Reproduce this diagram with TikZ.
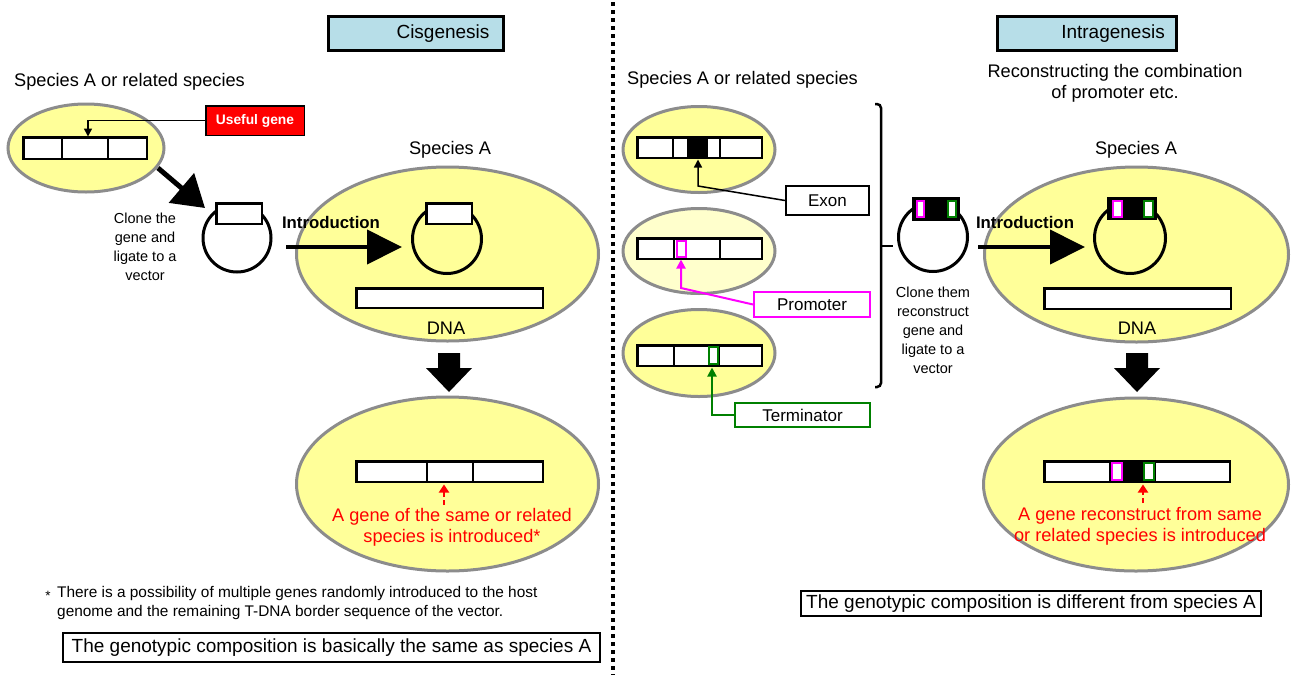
\documentclass[tikz,border=0pt]{standalone}
\usepackage{fontspec}
\setmainfont{Liberation Sans}
\usetikzlibrary{shapes.geometric,arrows.meta}
\definecolor{cellyellow}{HTML}{FFFF99}
\definecolor{celllight}{HTML}{FFFFCC}
\definecolor{cellgray}{HTML}{8C8C8C}
\definecolor{titleblue}{HTML}{B7DEE8}
\definecolor{promag}{HTML}{FF00FF}
\definecolor{termgreen}{HTML}{008000}
\definecolor{txtred}{HTML}{FF0000}
\begin{document}
\begin{tikzpicture}[x=1pt,y=-1pt,
  cell/.style={ellipse, draw=cellgray, line width=3pt, fill=cellyellow, inner sep=0pt},
  bar/.style={rectangle, draw=black, line width=2.5pt, fill=white, inner sep=0pt},
  vec/.style={circle, draw=black, line width=3pt, inner sep=0pt},
  divline/.style={line width=2.5pt},
  lbl/.style={font=\fontsize{18.2}{21}\selectfont, inner sep=0pt},
  smalllbl/.style={font=\fontsize{14.5}{19}\selectfont, inner sep=0pt, align=center},
  boldlbl/.style={font=\fontsize{16.8}{20}\selectfont\bfseries, inner sep=0pt},
  redlbl/.style={font=\fontsize{18.2}{21}\selectfont, text=txtred, inner sep=0pt, align=center},
  titlebox/.style={rectangle, draw=black, line width=3pt, fill=titleblue, inner sep=0pt},
  titletext/.style={font=\fontsize{19}{22}\selectfont, inner sep=0pt},
  infobox/.style={rectangle, draw=black, line width=2pt, fill=white, inner sep=0pt, font=\fontsize{19}{22}\selectfont},
  tagbox/.style={rectangle, line width=2pt, fill=white, inner sep=0pt, font=\fontsize{17}{20}\selectfont},
  thinarrow/.style={line width=1.5pt, -{Triangle[length=8pt,width=8pt]}},
  colarrow/.style={line width=2pt, -{Triangle[length=9pt,width=9pt]}},
  intro/.style={line width=4pt, -{Triangle[length=35pt,width=34pt]}},
  diag/.style={line width=5pt, -{Triangle[length=31pt,width=38pt]}},
  reddash/.style={draw=txtred, line width=2.5pt, dash pattern=on 5pt off 3pt, -{Triangle[length=8pt,width=10pt]}},
  magbox/.style={draw=promag, line width=2pt, fill=white},
  grnbox/.style={draw=termgreen, line width=2pt, fill=white},
  dotline/.style={line width=3.5pt, dash pattern=on 3.5pt off 4.5pt}
]
\useasboundingbox (0,0) rectangle (1295,675);
\fill[white] (0,0) rectangle (1295,675);

% divider
\draw[dotline] (613,2) -- (613,675);

% ===== titles =====
\node[titlebox, minimum width=175pt, minimum height=34pt] (tCis) at (416,33.5) {};
\node[titletext] (tCisT) at (443,34) {Cisgenesis};
\node[titlebox, minimum width=179pt, minimum height=34pt] (tIntra) at (1087,33.5) {};
\node[titletext] (tIntraT) at (1113,34) {Intragenesis};

% ===== LEFT PANEL =====
\node[lbl, anchor=west] (spL) at (14,82) {Species A or related species};
\node[cell, minimum width=156pt, minimum height=88pt] (cL1) at (86,148) {};
\node[bar, minimum width=123.5pt, minimum height=21.5pt] (bL1) at (85,148) {};
\draw[divline] (62,137) -- (62,159);
\draw[divline] (108,137) -- (108,159);
\node[rectangle, fill=red, draw=black, line width=1.5pt, minimum width=98.5pt, minimum height=29.5pt, inner sep=0pt, text=white, font=\fontsize{13.8}{16}\selectfont\bfseries] (useful) at (255,120.5) {Useful gene};
\coordinate (ugT) at (88,136.5);
\draw[thinarrow] (useful.west) -| (ugT);

\coordinate (dA) at (158,168);
\coordinate (dB) at (205,208);
\draw[diag] (dA) -- (dB);
\node[smalllbl] (cloneL) at (145,247) {Clone the\\gene and\\ligate to a\\vector};

\node[vec, minimum size=68pt] (v1) at (237,238) {};
\node[bar, minimum width=45.5pt, minimum height=20.5pt] (v1r) at (239,213.5) {};

\node[cell, minimum width=302pt, minimum height=174pt] (cL2) at (447.5,254) {};
\node[lbl] (spA1) at (450,150) {Species A};
\node[vec, minimum size=69pt] (v2) at (447,239) {};
\node[bar, minimum width=45.5pt, minimum height=20.5pt] (v2r) at (449,213.5) {};
\node[bar, minimum width=186.5pt, minimum height=19.5pt] (dnaL) at (449.5,298) {};
\node[lbl] (dnaLt) at (446,328) {DNA};
\coordinate (iLa) at (286,247);
\coordinate (iLb) at (402,247);
\draw[intro] (iLa) -- (iLb);
\node[boldlbl] (introL) at (331,222) {Introduction};

\fill (438,353) -- (460,353) -- (460,368) -- (472,368) -- (449,392) -- (426,368) -- (438,368) -- cycle;

\node[cell, minimum width=302pt, minimum height=174pt] (cL3) at (447.5,484) {};
\node[bar, minimum width=186.5pt, minimum height=20.5pt] (bL3) at (449.5,471.5) {};
\draw[divline] (427,462) -- (427,482);
\draw[divline] (473,462) -- (473,482);
\coordinate (rLa) at (444,505);
\coordinate (rLb) at (444,484.5);
\draw[reddash] (rLa) -- (rLb);
\node[redlbl] (redL) at (452,527.5) {A gene of the same or related\\species is introduced*};

\node[font=\fontsize{13.5}{18}\selectfont, inner sep=0pt] (star) at (48,596) {*};
\node[font=\fontsize{15.4}{18.5}\selectfont, inner sep=0pt, align=left, anchor=west] (foot) at (57,603) {There is a possibility of multiple genes randomly introduced to the host\\genome and the remaining T-DNA border sequence of the vector.};
\node[infobox, minimum width=537pt, minimum height=29pt] (boxL) at (331.5,647.5) {The genotypic composition is basically the same as species A};

% ===== RIGHT PANEL =====
\node[lbl, anchor=west] (spR) at (627,80) {Species A or related species};
\node[lbl, align=center] (recon) at (1115,83.5) {Reconstructing the combination\\of promoter etc.};

% ER1 exon
\node[cell, minimum width=152pt, minimum height=86pt] (cR1) at (699,149.5) {};
\node[bar, minimum width=124.5pt, minimum height=20.5pt] (bR1) at (699.5,147.5) {};
\draw[divline] (673,138) -- (673,157);
\draw[divline] (720,138) -- (720,157);
\fill (687,137) rectangle (708,158);
\node[tagbox, draw=black, minimum width=83pt, minimum height=29pt] (exon) at (827.5,200.5) {Exon};
\coordinate (exK) at (698,186);
\coordinate (exT) at (698,159.5);
\draw[thinarrow] (exon.west) -- (exK) -- (exT);

% ER2 promoter
\node[cell, fill=celllight, minimum width=152pt, minimum height=85pt] (cR2) at (699,251) {};
\node[bar, minimum width=124.5pt, minimum height=20.5pt] (bR2) at (699.5,248.5) {};
\draw[divline] (674,239) -- (674,258);
\draw[divline] (720,239) -- (720,258);
\draw[magbox] (677,241) rectangle (686,257);
\node[tagbox, draw=promag, minimum width=116pt, minimum height=25pt] (prom) at (812,304.5) {Promoter};
\coordinate (prK) at (681,288);
\coordinate (prT) at (681,259.5);
\draw[colarrow, color=promag] (prom.west) -- (prK) -- (prT);

% ER3 terminator
\node[cell, minimum width=152pt, minimum height=87pt] (cR3) at (699,353) {};
\node[bar, minimum width=124.5pt, minimum height=20.5pt] (bR3) at (699.5,355.5) {};
\draw[divline] (674,346) -- (674,365);
\draw[divline] (719,346) -- (719,365);
\draw[grnbox] (709,347) rectangle (718,364);
\node[tagbox, draw=termgreen, minimum width=135pt, minimum height=24pt] (term) at (802.5,415) {Terminator};
\coordinate (tmK) at (712,415);
\coordinate (tmT) at (712,367.5);
\draw[colarrow, color=termgreen] (term.west) -- (tmK) -- (tmT);

% brace
\coordinate (brT) at (875,104);
\coordinate (brB) at (875,387);
\coordinate (brM) at (881,246);
\coordinate (brP) at (893,246);
\draw[line width=2.5pt, rounded corners=4pt] (brT) -- (881,104) -- (881,387) -- (brB);
\draw[line width=2.5pt] (brM) -- (brP);

% vector right 1
\node[vec, minimum size=69pt] (vr1) at (933,237) {};
\node[bar, fill=black, minimum width=45.5pt, minimum height=21.5pt] (vr1r) at (936,209) {};
\draw[magbox] (916.5,201) rectangle (923.5,217);
\draw[grnbox] (947.5,201) rectangle (955.5,217);
\node[smalllbl] (cloneR) at (933,330.5) {Clone them\\reconstruct\\gene and\\ligate to a\\vector};

% species A right
\node[cell, minimum width=304pt, minimum height=175pt] (cR4) at (1136.5,254.5) {};
\node[lbl] (spA2) at (1136,150) {Species A};
\node[vec, minimum size=71pt] (vr2) at (1130,238) {};
\node[bar, fill=black, minimum width=47.5pt, minimum height=20.5pt] (vr2r) at (1132,208.5) {};
\draw[magbox] (1113,200.5) rectangle (1122,216.5);
\draw[grnbox] (1144,200.5) rectangle (1153,216.5);
\node[bar, minimum width=186.5pt, minimum height=20.5pt] (dnaR) at (1137.5,298.5) {};
\node[lbl] (dnaRt) at (1137,328) {DNA};
\coordinate (iRa) at (978,247);
\coordinate (iRb) at (1085,247);
\draw[intro] (iRa) -- (iRb);
\node[boldlbl] (introR) at (1025,222) {Introduction};

\fill (1126,353) -- (1148,353) -- (1148,368) -- (1160,368) -- (1137,392) -- (1114,368) -- (1126,368) -- cycle;

\node[cell, minimum width=305pt, minimum height=173pt] (cR5) at (1136,484.5) {};
\node[bar, minimum width=185.5pt, minimum height=20.5pt] (bR5) at (1137,471.5) {};
\fill (1109,460) rectangle (1156,483);
\draw[magbox] (1112,463) rectangle (1122,480);
\draw[grnbox] (1144,463) rectangle (1154,480);
\coordinate (rRa) at (1143,503);
\coordinate (rRb) at (1143,484.5);
\draw[reddash] (rRa) -- (rRb);
\node[redlbl] (redR) at (1140,526) {A gene reconstruct from same\\or related species is introduced};

\node[infobox, minimum width=460pt, minimum height=25pt] (boxR) at (1031,603.5) {The genotypic composition is different from species A};
\end{tikzpicture}
\end{document}
